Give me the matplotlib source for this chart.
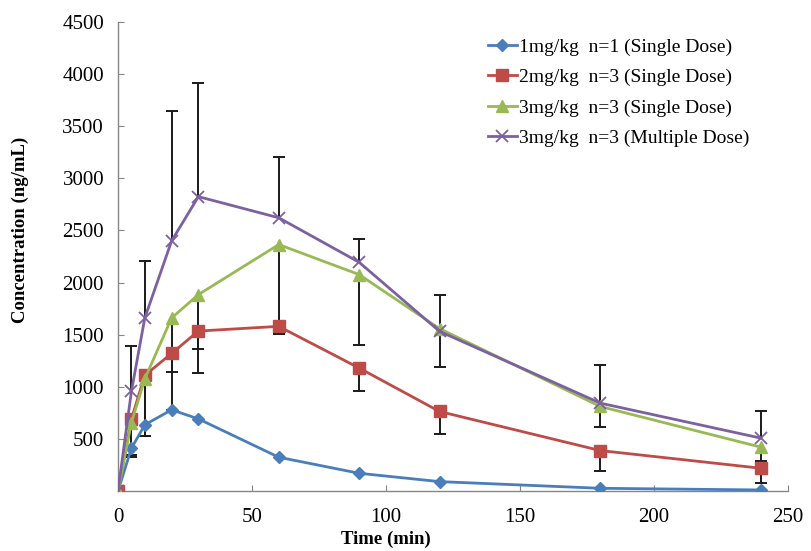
import numpy as np
import matplotlib
matplotlib.use("Agg")
import matplotlib.pyplot as plt

plt.rcParams['font.family'] = ['Liberation Serif', 'DejaVu Serif']

time_min = [0, 5, 10, 20, 30, 60, 90, 120, 180, 240]

conc_1mg = [0, 410, 635, 779, 692, 324, 170, 90, 26, 10]
conc_2mg = [0, 690, 1110, 1320, 1535, 1580, 1180, 763, 388, 218]
conc_3mg = [0, 655, 1075, 1660, 1885, 2365, 2077, 1558, 811, 420]
conc_3mg_multi = [0, 955, 1660, 2400, 2825, 2622, 2195, 1532, 843, 507]

# one-sided error bars
err_2mg_minus = [0, 345, 580, 177, 170, 64, 225, 215, 193, 144]
err_3mg_minus = [0, 330, 545, 880, 755, 855, 680, 369, 200, 129]
err_multi_plus = [0, 435, 550, 1250, 1095, 580, 225, 346, 368, 262]

labels = ["1mg/kg  n=1 (Single Dose)",
          "2mg/kg  n=3 (Single Dose)",
          "3mg/kg  n=3 (Single Dose)",
          "3mg/kg  n=3 (Multiple Dose)"]
colors = ["#4A7EBB", "#BE4B48", "#98B954", "#7D60A0"]

x_ticks = [0, 50, 100, 150, 200, 250]
y_ticks = [500, 1000, 1500, 2000, 2500, 3000, 3500, 4000, 4500]

fig = plt.figure(figsize=(8.11, 5.51), dpi=100)
ax = fig.add_axes([0.1455, 0.1089, 0.826, 0.851])

t = np.array(time_min, dtype=float)


def draw_err(y, minus, plus):
    y = np.array(y, dtype=float)
    minus = np.array(minus, dtype=float)
    plus = np.array(plus, dtype=float)
    m = (minus + plus) > 0
    cont = ax.errorbar(t[m], y[m], yerr=[minus[m], plus[m]], fmt='none',
                       ecolor='#1a1a1a', elinewidth=1.4, capsize=4.5,
                       capthick=1.4, zorder=2)
    caps = cont.lines[1]
    if len(caps) == 2:
        if minus[m].sum() == 0:
            caps[0].set_visible(False)
        if plus[m].sum() == 0:
            caps[1].set_visible(False)


draw_err(conc_2mg, err_2mg_minus, [0] * len(time_min))
draw_err(conc_3mg, err_3mg_minus, [0] * len(time_min))
draw_err(conc_3mg_multi, [0] * len(time_min), err_multi_plus)

lw = 2.0
ax.plot(time_min, conc_1mg, color=colors[0], lw=lw, marker='D', ms=6,
        label=labels[0], zorder=3)
ax.plot(time_min, conc_2mg, color=colors[1], lw=lw, marker='s', ms=8,
        label=labels[1], zorder=3)
ax.plot(time_min, conc_3mg, color=colors[2], lw=lw, marker='^', ms=8,
        label=labels[2], zorder=3)
ax.plot(time_min, conc_3mg_multi, color=colors[3], lw=lw, marker='x', ms=8,
        mew=1.3, label=labels[3], zorder=3)

ax.set_xlim(0, 250)
ax.set_ylim(0, 4500)
ax.set_xticks(x_ticks)
ax.set_yticks(y_ticks)
ax.tick_params(axis='both', direction='in', length=4, color='#868686',
               labelsize=15)
ax.tick_params(axis='x', pad=12)
ax.tick_params(axis='y', pad=10)

for s in ['top', 'right']:
    ax.spines[s].set_visible(False)
for s in ['left', 'bottom']:
    ax.spines[s].set_color('#868686')
    ax.spines[s].set_linewidth(1.0)

ax.set_xlabel("Time (min)", fontsize=13.5, fontweight='bold')
ax.set_ylabel("Concentration (ng/mL)", fontsize=13.5, fontweight='bold')
ax.xaxis.set_label_coords(0.40, -0.085)
ax.yaxis.set_label_coords(-0.133, 0.556)

ax.legend(loc='upper left', bbox_to_anchor=(0.592, 0.945),
          bbox_transform=fig.transFigure, frameon=False, fontsize=14,
          handlelength=1.5, handletextpad=0.1, labelspacing=0.66,
          borderaxespad=0)

fig.savefig("out.png", dpi=100)
